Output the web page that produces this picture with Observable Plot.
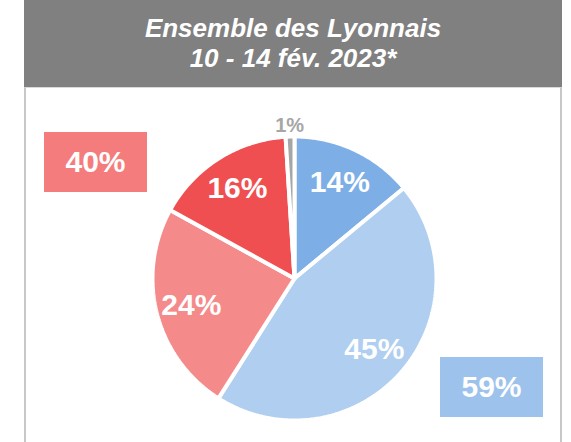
<!DOCTYPE html>
<html>
<head>
<meta charset="utf-8">
<script src="https://cdn.jsdelivr.net/npm/d3@7"></script>
<script src="https://cdn.jsdelivr.net/npm/@observablehq/plot@0.6"></script>
<style>
  html, body { margin: 0; padding: 0; background: #fff; }
  #root { position: relative; width: 571px; height: 442px; overflow: hidden; font-family: "Liberation Sans", Arial, sans-serif; }
  #header { position: absolute; left: 24px; top: 0; width: 538px; height: 87px; background: #808080; color: #fff; font-weight: bold; font-style: italic; font-size: 26px; line-height: 30px; text-align: center; box-sizing: border-box; padding-top: 13px; }
  #panel { position: absolute; left: 24px; top: 87px; width: 538px; height: 360px; box-sizing: border-box; border-left: 2px solid #C8C8C8; border-right: 2px solid #C8C8C8; border-top: 1px solid #DADADA; }
  #chart { position: absolute; left: 0; top: 88px; }
  .box { position: absolute; color: #fff; font-weight: bold; font-size: 30px; display: flex; align-items: center; justify-content: center; }
</style>
</head>
<body>
<div id="root">
  <div id="header"></div>
  <div id="panel"></div>
  <div id="chart"></div>
</div>
<script>
// ---- data ----
const titleLines = ["Ensemble des Lyonnais", "10 - 14 fév. 2023*"];
const categories = ["Très favorable", "Plutôt favorable", "Plutôt défavorable", "Très défavorable", "Ne se prononce pas"];
const values = [14, 45, 24, 16, 1];
const sliceColors = ["#7DAEE5", "#B0CEF0", "#F48A8A", "#F04F51", "#A6A6A6"];
const groupOf = ["favorable", "favorable", "defavorable", "defavorable", "nsp"];
const groupNames = ["defavorable", "favorable"];
const groupColors = ["#F47C7C", "#9DC3ED"];

// ---- header ----
document.getElementById("header").innerHTML = titleLines.map(t => `<div>${t}</div>`).join("");

// ---- geometry ----
const W = 571, H = 354, R = 142, CX = 294, CY = 190;
const pie = d3.pie().sort(null).value(d => d)(values);
const pts = [];
pie.forEach((p, i) => {
  pts.push({k: i, x: 0, y: 0});
  const n = Math.max(2, Math.ceil((p.endAngle - p.startAngle) / 0.01));
  for (let j = 0; j <= n; j++) {
    const a = p.startAngle + (p.endAngle - p.startAngle) * j / n;
    pts.push({k: i, x: Math.sin(a), y: Math.cos(a)});
  }
  pts.push({k: i, x: 0, y: 0});
});
const labels = pie.map((p, i) => {
  const mid = (p.startAngle + p.endAngle) / 2;
  const outside = values[i] < 5;
  const f = outside ? 1.08 : 0.75;
  return {text: values[i] + "%", x: Math.sin(mid) * f, y: Math.cos(mid) * f, outside};
});

const chart = Plot.plot({
  width: W, height: H,
  margin: 0,
  x: {domain: [-CX / R, (W - CX) / R], axis: null},
  y: {domain: [-(H - CY) / R, CY / R], axis: null},
  color: {type: "identity"},
  style: {background: "transparent", fontFamily: "'Liberation Sans', Arial, sans-serif"},
  marks: [
    Plot.line(pts, {x: "x", y: "y", z: "k", fill: d => sliceColors[d.k], stroke: "white", strokeWidth: 4, strokeLinejoin: "miter"}),
    Plot.text(labels.filter(d => !d.outside), {x: "x", y: "y", text: "text", fill: "white", fontSize: 30, fontWeight: "bold"}),
    Plot.text(labels.filter(d => d.outside), {x: "x", y: "y", text: "text", fill: "#A6A6A6", fontSize: 20, fontWeight: "bold"})
  ]
});
document.getElementById("chart").appendChild(chart);

// ---- group total boxes ----
const boxPos = [{left: 44, top: 132}, {left: 440, top: 357}];
groupNames.forEach((g, gi) => {
  const total = d3.sum(values.filter((v, i) => groupOf[i] === g));
  const el = document.createElement("div");
  el.className = "box";
  el.style.left = boxPos[gi].left + "px";
  el.style.top = boxPos[gi].top + "px";
  el.style.width = "103px";
  el.style.height = "60px";
  el.style.background = groupColors[gi];
  el.textContent = total + "%";
  document.getElementById("root").appendChild(el);
});
</script>
</body>
</html>
